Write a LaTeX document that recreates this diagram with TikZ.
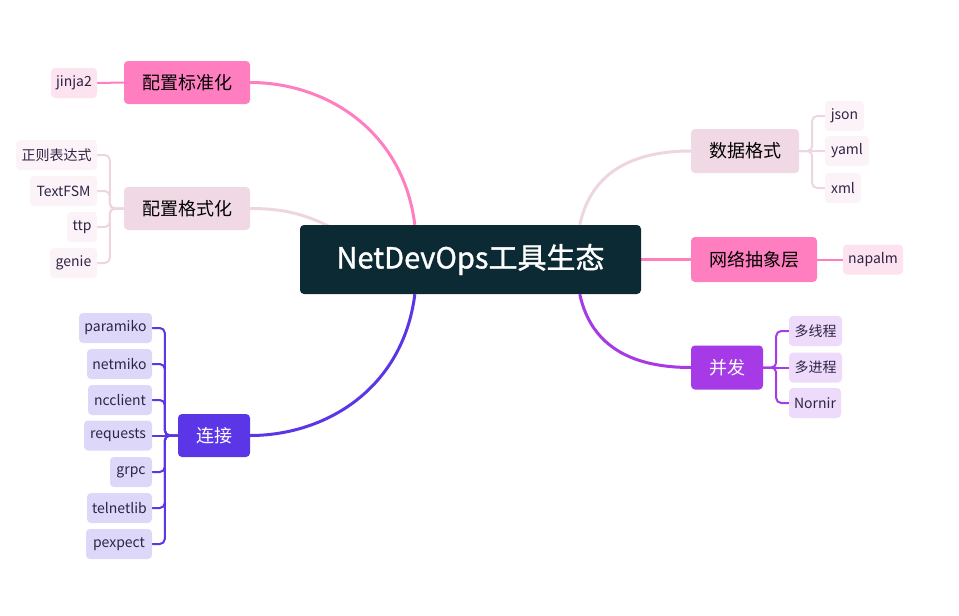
\documentclass[tikz,border=0pt]{standalone}
\usepackage{fontspec}
\setmainfont{Noto Sans CJK SC}
\newfontfamily\centerfont[FakeBold=1.2]{Noto Sans CJK SC}
\usetikzlibrary{calc,backgrounds}
\definecolor{centerc}{HTML}{0B2A33}
\definecolor{pinkA}{HTML}{FF7EC0}
\definecolor{pinkL}{HTML}{F0D8E4}
\definecolor{pinkLine}{HTML}{EED5E2}
\definecolor{leafPinkA}{HTML}{FDE2EF}
\definecolor{leafPinkL}{HTML}{FCF3F8}
\definecolor{purpleA}{HTML}{5B36E6}
\definecolor{leafPurple}{HTML}{DDD7F9}
\definecolor{violetA}{HTML}{A53AE6}
\definecolor{leafViolet}{HTML}{EEDAFA}
\definecolor{leaftext}{HTML}{2E2446}
\begin{document}
\begin{tikzpicture}[x=1pt,y=-1pt,
  box/.style={rounded corners=4pt, inner sep=0pt, align=center},
  mainbox/.style={box, font=\fontsize{18}{18}\selectfont, minimum height=43pt, text=black},
  leaf/.style={box, font=\fontsize{14}{14}\selectfont, minimum height=30pt, text=leaftext},
  conn/.style={line width=3pt},
  subline/.style={line width=2pt, rounded corners=5pt}]
\useasboundingbox (0,0) rectangle (959,616);

% center
\node[box, fill=centerc, text=white, minimum width=341pt, minimum height=69pt,
  font=\centerfont\fontsize{29}{29}\selectfont] (c) at (470.5,259.5) {NetDevOps工具生态};

% main branches
\node[mainbox, fill=pinkA, minimum width=126pt] (b1) at (187,82.5) {配置标准化};
\node[mainbox, fill=pinkL, minimum width=126pt] (b2) at (187,208.5) {配置格式化};
\node[mainbox, fill=purpleA, text=white, minimum width=72pt] (b3) at (214,435.5) {连接};
\node[mainbox, fill=pinkL, minimum width=108pt, minimum height=44pt] (b4) at (745,151) {数据格式};
\node[mainbox, fill=pinkA, minimum width=126pt, minimum height=45pt] (b5) at (754,259.5) {网络抽象层};
\node[mainbox, fill=violetA, text=white, minimum width=72pt, minimum height=44pt] (b6) at (727,367.5) {并发};

% leaves
\node[leaf, fill=leafPinkA, minimum width=46pt] (jinja) at (74,83) {jinja2};
\node[leaf, fill=leafPinkL, minimum width=81pt] (l21) at (56.5,155) {正则表达式};
\node[leaf, fill=leafPinkL, minimum width=67pt] (l22) at (63.5,191) {TextFSM};
\node[leaf, fill=leafPinkL, minimum width=30pt] (l23) at (82,227) {ttp};
\node[leaf, fill=leafPinkL, minimum width=47pt] (l24) at (73.5,263) {genie};

\node[leaf, fill=leafPurple, minimum width=73pt] (l31) at (115.5,328) {paramiko};
\node[leaf, fill=leafPurple, minimum width=65pt] (l32) at (119.5,364) {netmiko};
\node[leaf, fill=leafPurple, minimum width=64pt] (l33) at (120,400) {ncclient};
\node[leaf, fill=leafPurple, minimum width=68pt] (l34) at (118,435.5) {requests};
\node[leaf, fill=leafPurple, minimum width=42pt] (l35) at (131,472) {grpc};
\node[leaf, fill=leafPurple, minimum width=65pt] (l36) at (119.5,508) {telnetlib};
\node[leaf, fill=leafPurple, minimum width=66pt] (l37) at (119,544) {pexpect};

\node[leaf, fill=leafPinkL, minimum width=39pt] (l41) at (844.5,116) {json};
\node[leaf, fill=leafPinkL, minimum width=44pt] (l42) at (847,151) {yaml};
\node[leaf, fill=leafPinkL, minimum width=36pt] (l43) at (843,188) {xml};

\node[leaf, fill=leafPinkA, minimum width=60pt] (napalm) at (873,259.5) {napalm};

\node[leaf, fill=leafViolet, minimum width=53pt] (l61) at (815.5,331) {多线程};
\node[leaf, fill=leafViolet, minimum width=53pt] (l62) at (815.5,367.5) {多进程};
\node[leaf, fill=leafViolet, minimum width=52pt] (l63) at (815,403) {Nornir};

\begin{pgfonlayer}{background}
% main connectors
\draw[conn, pinkA] ($(c.north west)!0.337!(c.north east)$) .. controls +(-12,-95) and +(75,0) .. (b1.east);
\draw[conn, pinkLine] (b2.east) .. controls +(45,0) and +(-35,-18) .. ($(c.north west)+(50,12)$);
\draw[conn, purpleA] ($(c.south west)!0.337!(c.south east)$) .. controls +(-12,95) and +(75,0) .. (b3.east);
\draw[conn, pinkLine] ($(c.north west)!0.82!(c.north east)$) .. controls +(12,-55) and +(-55,0) .. (b4.west);
\draw[conn, pinkA] (c.east) -- (b5.west);
\draw[conn, violetA] ($(c.south west)!0.82!(c.south east)$) .. controls +(12,55) and +(-55,0) .. (b6.west);

% sub connectors
\draw[subline, pinkA] (b1.west) -- (jinja.east);
\foreach \n in {l21,l22,l23,l24}
  \draw[subline, pinkLine] (b2.west) -- ++(-14,0) |- (\n.east);
\foreach \n in {l31,l32,l33,l35,l36,l37}
  \draw[subline, purpleA] (b3.west) -- ++(-13,0) |- (\n.east);
\draw[subline, purpleA] (b3.west) -- (l34.east);
\foreach \n in {l41,l43}
  \draw[subline, pinkLine] (b4.east) -- ++(13,0) |- (\n.west);
\draw[subline, pinkLine] (b4.east) -- (l42.west);
\draw[subline, pinkA] (b5.east) -- (napalm.west);
\foreach \n in {l61,l63}
  \draw[subline, violetA] (b6.east) -- ++(13,0) |- (\n.west);
\draw[subline, violetA] (b6.east) -- (l62.west);
\end{pgfonlayer}
\end{tikzpicture}
\end{document}
